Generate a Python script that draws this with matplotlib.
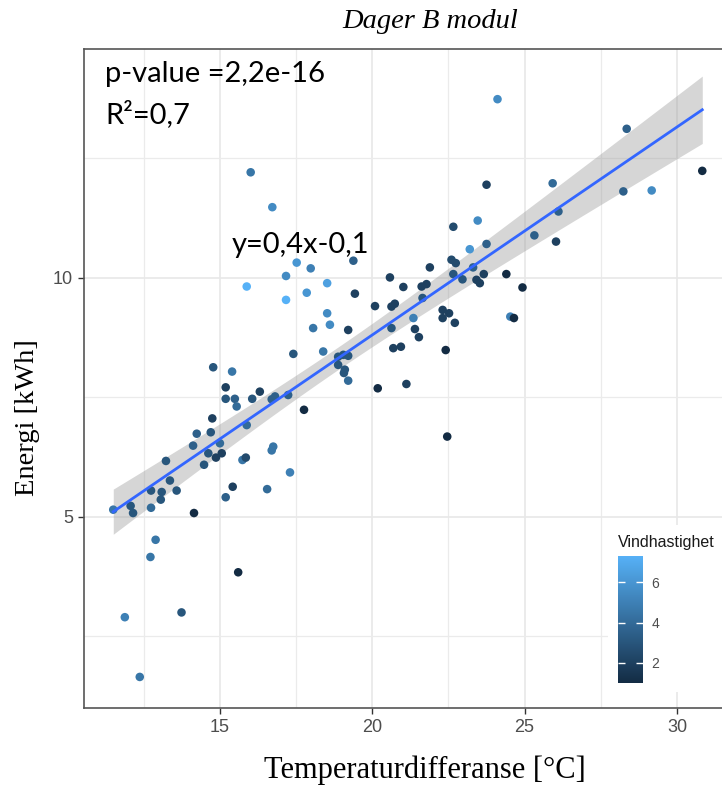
import numpy as np
import matplotlib
matplotlib.use("Agg")
import matplotlib.pyplot as plt
from matplotlib.colors import LinearSegmentedColormap, Normalize
from matplotlib.patches import Rectangle

# data
temp_diff = [15.88, 17.17, 17.85, 18.52, 18.52, 18.61, 18.06, 19.43, 20.09, 20.63,
             20.74, 21.02, 19.21, 17.41, 18.39, 18.88, 19.05, 19.21, 18.88, 19.10,
             19.07, 19.21, 20.18, 20.63, 20.69, 20.94, 21.12, 14.78, 15.40, 15.19,
             15.19, 15.49, 15.55, 16.06, 16.31, 16.70, 16.81, 17.24, 17.76, 14.75,
             14.70, 14.24, 14.12, 15.00, 14.62, 14.87, 15.06, 14.48, 15.88, 15.74,
             15.85, 16.70, 16.75, 17.30, 16.55, 15.42, 15.19, 14.15, 13.23, 13.36,
             13.58, 12.74, 13.09, 13.06, 12.74, 12.07, 12.15, 11.50, 12.89, 12.72,
             15.60, 11.88, 13.74, 12.37, 16.01, 16.72, 17.52, 17.98, 17.17, 19.38,
             20.58, 21.89, 22.66, 22.60, 22.74, 21.62, 21.78, 21.65, 21.35, 21.40,
             21.53, 22.31, 22.52, 22.31, 22.71, 23.75, 25.92, 28.24, 29.17, 23.46,
             23.20, 23.75, 22.66, 22.96, 23.31, 23.66, 23.42, 23.53, 24.40, 24.93,
             22.41, 24.53, 24.65, 22.46, 26.11, 25.32, 26.03, 24.11, 28.35, 30.83]
energy = [9.82, 9.54, 9.69, 9.89, 9.26, 9.02, 8.95, 9.67, 9.41, 9.40,
          9.46, 9.81, 8.91, 8.41, 8.46, 8.35, 8.39, 8.37, 8.18, 8.08,
          8.01, 7.85, 7.69, 8.95, 8.53, 8.56, 7.78, 8.13, 8.04, 7.71,
          7.47, 7.47, 7.31, 7.47, 7.62, 7.46, 7.52, 7.55, 7.24, 7.06,
          6.77, 6.74, 6.49, 6.54, 6.33, 6.24, 6.33, 6.09, 6.92, 6.19,
          6.24, 6.39, 6.47, 5.93, 5.58, 5.63, 5.41, 5.08, 6.17, 5.76,
          5.55, 5.55, 5.52, 5.36, 5.19, 5.23, 5.08, 5.15, 4.52, 4.16,
          3.84, 2.90, 3.00, 1.65, 12.21, 11.48, 10.32, 10.20, 10.04, 10.36,
          10.01, 10.22, 11.07, 10.38, 10.31, 9.82, 9.87, 9.58, 9.16, 8.93,
          8.76, 9.33, 9.26, 9.16, 9.06, 11.95, 11.98, 11.81, 11.83, 11.20,
          10.60, 10.71, 10.08, 9.97, 10.22, 10.08, 9.96, 9.89, 10.08, 9.80,
          8.49, 9.19, 9.16, 6.68, 11.39, 10.89, 10.76, 13.74, 13.12, 12.24]
wind = [7.3, 7.3, 6.0, 6.5, 5.5, 5.5, 4.5, 2.0, 2.0, 2.0,
        2.0, 2.0, 2.0, 3.0, 4.5, 3.0, 3.0, 3.0, 3.0, 3.0,
        3.0, 4.0, 1.0, 3.0, 2.0, 2.0, 2.0, 3.0, 4.5, 2.0,
        3.0, 3.5, 4.0, 3.0, 2.0, 3.5, 3.5, 3.5, 1.0, 2.0,
        3.0, 3.5, 3.5, 4.0, 3.0, 2.0, 2.0, 3.0, 4.0, 4.5,
        2.5, 4.5, 4.5, 5.0, 4.0, 2.0, 3.5, 1.0, 3.0, 3.0,
        3.0, 3.0, 3.0, 3.0, 4.0, 3.0, 3.0, 4.5, 4.5, 4.5,
        1.0, 5.0, 3.0, 4.5, 4.5, 5.5, 6.0, 5.0, 5.5, 3.5,
        2.0, 2.0, 2.5, 2.5, 2.5, 2.0, 2.0, 3.0, 5.0, 2.0,
        2.0, 2.0, 2.0, 2.0, 2.0, 2.0, 4.0, 3.5, 5.5, 5.5,
        6.0, 3.5, 3.0, 3.0, 3.5, 2.0, 2.0, 2.0, 1.0, 1.0,
        1.0, 5.0, 1.0, 1.0, 3.5, 3.5, 2.0, 5.5, 3.5, 1.0]
x_ticks = [15, 20, 25, 30]
y_ticks = [5, 10]
cbar_ticks = [2, 4, 6]

x = np.array(temp_diff)
y = np.array(energy)
v = np.array(wind)

# linear fit with 95 % confidence band, like geom_smooth(method="lm")
slope, icpt = np.polyfit(x, y, 1)
n = len(x)
resid = y - (slope*x + icpt)
s = np.sqrt(np.sum(resid**2)/(n - 2))
xs = np.linspace(x.min(), x.max(), 200)
ys = slope*xs + icpt
se = s*np.sqrt(1/n + (xs - x.mean())**2/np.sum((x - x.mean())**2))
band = 1.98*se

cmap = LinearSegmentedColormap.from_list("gg", ["#132B43", "#56B1F7"])
norm = Normalize(v.min(), v.max())

W, H = 722, 790
fig = plt.figure(figsize=(W/100, H/100), dpi=100)
ax = fig.add_axes([84/W, 1 - 708/H, (730 - 84)/W, (708 - 49)/H])

ax.fill_between(xs, ys - band, ys + band, color="#999999", alpha=0.4,
                lw=0, zorder=2)
ax.scatter(x, y, c=v, cmap=cmap, norm=norm, s=38, lw=0, zorder=3)
ax.plot(xs, ys, color="#3366FF", lw=2.0, zorder=4)

ax.set_xlim(10.54, 31.74)
ax.set_ylim(1.0, 14.79)
ax.set_xticks(x_ticks)
ax.set_yticks(y_ticks)
ax.set_xticks([12.5, 17.5, 22.5, 27.5], minor=True)
ax.set_yticks([2.5, 7.5, 12.5], minor=True)
ax.grid(which="major", color="#E8E8E8", lw=1.2, zorder=0)
ax.grid(which="minor", color="#EBEBEB", lw=0.9, zorder=0)
ax.set_axisbelow(True)
ax.tick_params(which="minor", length=0)
ax.tick_params(which="major", length=4, width=1, color="#333333",
               labelcolor="#4D4D4D", labelsize=13, pad=4)
for lbl in ax.get_xticklabels() + ax.get_yticklabels():
    lbl.set_family("Liberation Sans")
for sp in ax.spines.values():
    sp.set_color("#555555")
    sp.set_linewidth(1.2)

# white legend background inside the panel
fig.add_artist(Rectangle((608/W, 1 - 692/H), (W - 608)/W, (692 - 525)/H,
                         transform=fig.transFigure, facecolor="white",
                         edgecolor="none", zorder=1))

cax = fig.add_axes([618/W, 1 - 683/H, 25/W, 127/H])
cax.set_zorder(2)
cb = fig.colorbar(plt.cm.ScalarMappable(norm=norm, cmap=cmap), cax=cax)
cb.outline.set_visible(False)
cb.set_ticks(cbar_ticks)
cax.tick_params(direction="in", color="white", length=5, width=1,
                left=True, right=True, labelsize=10, labelcolor="#4D4D4D", pad=6)
for lbl in cax.get_yticklabels():
    lbl.set_family("Liberation Sans")
fig.text(618/W, 1 - 547/H, "Vindhastighet", fontsize=11.5,
         family="Liberation Sans", color="#1A1A1A", va="baseline", zorder=3)

fig.text(430/W, 1 - 28/H, "Dager B modul", fontsize=20.5,
         family="Liberation Serif", style="italic", ha="center", va="baseline")
fig.text(425/W, 1 - 778/H, "Temperaturdifferanse [°C]", fontsize=22,
         family="Liberation Serif", ha="center", va="baseline")
fig.text(28/W, 1 - 418/H, "Energi [kWh]", fontsize=20.5,
         family="Liberation Serif", rotation=90, ha="center", va="center")

fig.text(105/W, 1 - 82/H, "p-value =2,2e-16", fontsize=21, family="Lato",
         va="baseline")
fig.text(105/W, 1 - 123/H, "R²=0,7", fontsize=21, family="Lato",
         va="baseline")
fig.text(232/W, 1 - 253/H, "y=0,4x-0,1", fontsize=21, family="Lato",
         va="baseline")

fig.savefig("out.png", dpi=100)
